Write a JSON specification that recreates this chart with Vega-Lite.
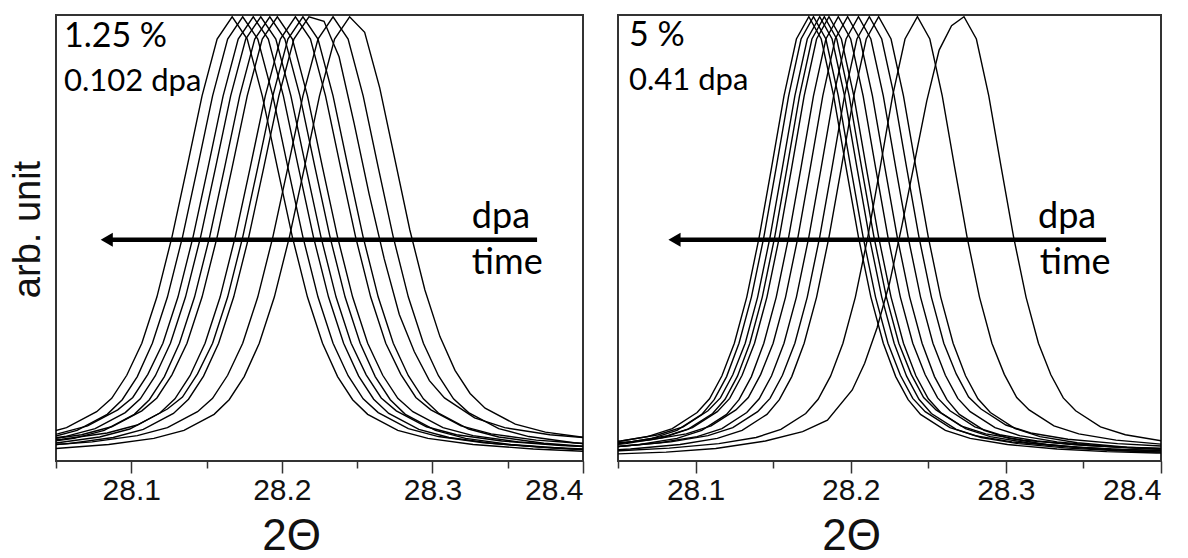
{
"$schema": "https://vega.github.io/schema/vega-lite/v6.json",
"background": "white",
"padding": {"left": 8, "top": 14, "right": 5, "bottom": 5},
"config": {
  "view": {"stroke": "#333333", "strokeWidth": 2},
  "axis": {"labelFont": "Liberation Sans", "titleFont": "Liberation Sans", "labelFontSize": 30, "labelColor": "#111111", "titleColor": "#111111", "titleFontWeight": "normal", "grid": false, "domain": false, "tickColor": "#333333", "tickWidth": 1.5}
},
"datasets": {
"L": [
{"c":1,"x":28.037,"y":0.057},{"c":1,"x":28.057,"y":0.075},{"c":1,"x":28.077,"y":0.111},{"c":1,"x":28.087,"y":0.141},{"c":1,"x":28.097,"y":0.193},{"c":1,"x":28.107,"y":0.265},{"c":1,"x":28.117,"y":0.369},{"c":1,"x":28.127,"y":0.504},{"c":1,"x":28.137,"y":0.661},{"c":1,"x":28.147,"y":0.822},{"c":1,"x":28.157,"y":0.95},{"c":1,"x":28.167,"y":1},{"c":1,"x":28.177,"y":0.95},{"c":1,"x":28.187,"y":0.822},{"c":1,"x":28.197,"y":0.661},{"c":1,"x":28.207,"y":0.504},{"c":1,"x":28.217,"y":0.369},{"c":1,"x":28.227,"y":0.265},{"c":1,"x":28.237,"y":0.19},{"c":1,"x":28.247,"y":0.138},{"c":1,"x":28.257,"y":0.105},{"c":1,"x":28.277,"y":0.069},{"c":1,"x":28.297,"y":0.051},{"c":1,"x":28.327,"y":0.037},{"c":1,"x":28.367,"y":0.027},{"c":1,"x":28.407,"y":0.021},
{"c":2,"x":28.044,"y":0.051},{"c":2,"x":28.064,"y":0.069},{"c":2,"x":28.084,"y":0.105},{"c":2,"x":28.094,"y":0.138},{"c":2,"x":28.104,"y":0.19},{"c":2,"x":28.114,"y":0.265},{"c":2,"x":28.124,"y":0.369},{"c":2,"x":28.134,"y":0.504},{"c":2,"x":28.144,"y":0.661},{"c":2,"x":28.154,"y":0.822},{"c":2,"x":28.164,"y":0.95},{"c":2,"x":28.174,"y":1},{"c":2,"x":28.184,"y":0.95},{"c":2,"x":28.194,"y":0.822},{"c":2,"x":28.204,"y":0.661},{"c":2,"x":28.214,"y":0.504},{"c":2,"x":28.224,"y":0.369},{"c":2,"x":28.234,"y":0.265},{"c":2,"x":28.244,"y":0.192},{"c":2,"x":28.254,"y":0.14},{"c":2,"x":28.264,"y":0.109},{"c":2,"x":28.284,"y":0.073},{"c":2,"x":28.304,"y":0.055},{"c":2,"x":28.334,"y":0.041},{"c":2,"x":28.374,"y":0.031},{"c":2,"x":28.414,"y":0.025},
{"c":3,"x":28.021,"y":0.047},{"c":3,"x":28.051,"y":0.061},{"c":3,"x":28.071,"y":0.079},{"c":3,"x":28.091,"y":0.115},{"c":3,"x":28.101,"y":0.143},{"c":3,"x":28.111,"y":0.195},{"c":3,"x":28.121,"y":0.265},{"c":3,"x":28.131,"y":0.369},{"c":3,"x":28.141,"y":0.504},{"c":3,"x":28.151,"y":0.661},{"c":3,"x":28.161,"y":0.822},{"c":3,"x":28.171,"y":0.95},{"c":3,"x":28.181,"y":1},{"c":3,"x":28.191,"y":0.95},{"c":3,"x":28.201,"y":0.822},{"c":3,"x":28.211,"y":0.661},{"c":3,"x":28.221,"y":0.504},{"c":3,"x":28.231,"y":0.369},{"c":3,"x":28.241,"y":0.265},{"c":3,"x":28.251,"y":0.191},{"c":3,"x":28.261,"y":0.139},{"c":3,"x":28.271,"y":0.107},{"c":3,"x":28.291,"y":0.071},{"c":3,"x":28.311,"y":0.053},{"c":3,"x":28.341,"y":0.039},{"c":3,"x":28.381,"y":0.029},{"c":3,"x":28.421,"y":0.023},
{"c":4,"x":28.026,"y":0.041},{"c":4,"x":28.056,"y":0.055},{"c":4,"x":28.076,"y":0.073},{"c":4,"x":28.096,"y":0.109},{"c":4,"x":28.106,"y":0.14},{"c":4,"x":28.116,"y":0.192},{"c":4,"x":28.126,"y":0.265},{"c":4,"x":28.136,"y":0.369},{"c":4,"x":28.146,"y":0.504},{"c":4,"x":28.156,"y":0.661},{"c":4,"x":28.166,"y":0.822},{"c":4,"x":28.176,"y":0.95},{"c":4,"x":28.186,"y":1},{"c":4,"x":28.196,"y":0.95},{"c":4,"x":28.206,"y":0.822},{"c":4,"x":28.216,"y":0.661},{"c":4,"x":28.226,"y":0.504},{"c":4,"x":28.236,"y":0.369},{"c":4,"x":28.246,"y":0.265},{"c":4,"x":28.256,"y":0.194},{"c":4,"x":28.266,"y":0.142},{"c":4,"x":28.276,"y":0.113},{"c":4,"x":28.296,"y":0.077},{"c":4,"x":28.316,"y":0.059},{"c":4,"x":28.346,"y":0.045},{"c":4,"x":28.386,"y":0.035},{"c":4,"x":28.426,"y":0.029},
{"c":5,"x":28.032,"y":0.037},{"c":5,"x":28.062,"y":0.051},{"c":5,"x":28.082,"y":0.069},{"c":5,"x":28.102,"y":0.105},{"c":5,"x":28.112,"y":0.138},{"c":5,"x":28.122,"y":0.19},{"c":5,"x":28.132,"y":0.265},{"c":5,"x":28.142,"y":0.369},{"c":5,"x":28.152,"y":0.504},{"c":5,"x":28.162,"y":0.661},{"c":5,"x":28.172,"y":0.822},{"c":5,"x":28.182,"y":0.95},{"c":5,"x":28.192,"y":1},{"c":5,"x":28.202,"y":0.95},{"c":5,"x":28.212,"y":0.822},{"c":5,"x":28.222,"y":0.661},{"c":5,"x":28.232,"y":0.504},{"c":5,"x":28.242,"y":0.369},{"c":5,"x":28.252,"y":0.265},{"c":5,"x":28.262,"y":0.19},{"c":5,"x":28.272,"y":0.138},{"c":5,"x":28.282,"y":0.105},{"c":5,"x":28.302,"y":0.069},{"c":5,"x":28.322,"y":0.051},{"c":5,"x":28.352,"y":0.037},{"c":5,"x":28.392,"y":0.027},{"c":5,"x":28.432,"y":0.021},
{"c":6,"x":28.037,"y":0.045},{"c":6,"x":28.067,"y":0.059},{"c":6,"x":28.087,"y":0.077},{"c":6,"x":28.107,"y":0.113},{"c":6,"x":28.117,"y":0.142},{"c":6,"x":28.127,"y":0.194},{"c":6,"x":28.137,"y":0.265},{"c":6,"x":28.147,"y":0.369},{"c":6,"x":28.157,"y":0.504},{"c":6,"x":28.167,"y":0.661},{"c":6,"x":28.177,"y":0.822},{"c":6,"x":28.187,"y":0.95},{"c":6,"x":28.197,"y":1},{"c":6,"x":28.207,"y":0.95},{"c":6,"x":28.217,"y":0.822},{"c":6,"x":28.227,"y":0.661},{"c":6,"x":28.237,"y":0.504},{"c":6,"x":28.247,"y":0.369},{"c":6,"x":28.257,"y":0.265},{"c":6,"x":28.267,"y":0.193},{"c":6,"x":28.277,"y":0.141},{"c":6,"x":28.287,"y":0.111},{"c":6,"x":28.307,"y":0.075},{"c":6,"x":28.327,"y":0.057},{"c":6,"x":28.357,"y":0.043},{"c":6,"x":28.397,"y":0.033},{"c":6,"x":28.437,"y":0.027},
{"c":7,"x":28.049,"y":0.04},{"c":7,"x":28.079,"y":0.054},{"c":7,"x":28.099,"y":0.072},{"c":7,"x":28.119,"y":0.108},{"c":7,"x":28.129,"y":0.14},{"c":7,"x":28.139,"y":0.192},{"c":7,"x":28.149,"y":0.265},{"c":7,"x":28.159,"y":0.369},{"c":7,"x":28.169,"y":0.504},{"c":7,"x":28.179,"y":0.661},{"c":7,"x":28.189,"y":0.822},{"c":7,"x":28.199,"y":0.95},{"c":7,"x":28.209,"y":1},{"c":7,"x":28.219,"y":0.95},{"c":7,"x":28.229,"y":0.822},{"c":7,"x":28.239,"y":0.661},{"c":7,"x":28.249,"y":0.504},{"c":7,"x":28.259,"y":0.369},{"c":7,"x":28.269,"y":0.265},{"c":7,"x":28.279,"y":0.195},{"c":7,"x":28.289,"y":0.143},{"c":7,"x":28.299,"y":0.115},{"c":7,"x":28.319,"y":0.079},{"c":7,"x":28.339,"y":0.061},{"c":7,"x":28.369,"y":0.047},{"c":7,"x":28.409,"y":0.037},
{"c":8,"x":28.014,"y":0.039},{"c":8,"x":28.054,"y":0.049},{"c":8,"x":28.084,"y":0.063},{"c":8,"x":28.104,"y":0.081},{"c":8,"x":28.124,"y":0.117},{"c":8,"x":28.134,"y":0.144},{"c":8,"x":28.144,"y":0.196},{"c":8,"x":28.154,"y":0.265},{"c":8,"x":28.164,"y":0.369},{"c":8,"x":28.174,"y":0.504},{"c":8,"x":28.184,"y":0.661},{"c":8,"x":28.194,"y":0.822},{"c":8,"x":28.204,"y":0.95},{"c":8,"x":28.214,"y":1},{"c":8,"x":28.224,"y":0.95},{"c":8,"x":28.234,"y":0.822},{"c":8,"x":28.244,"y":0.661},{"c":8,"x":28.254,"y":0.504},{"c":8,"x":28.264,"y":0.369},{"c":8,"x":28.274,"y":0.265},{"c":8,"x":28.284,"y":0.192},{"c":8,"x":28.294,"y":0.14},{"c":8,"x":28.304,"y":0.108},{"c":8,"x":28.324,"y":0.072},{"c":8,"x":28.344,"y":0.054},{"c":8,"x":28.374,"y":0.04},{"c":8,"x":28.414,"y":0.03},
{"c":9,"x":28.018,"y":0.029},{"c":9,"x":28.058,"y":0.039},{"c":9,"x":28.088,"y":0.053},{"c":9,"x":28.108,"y":0.071},{"c":9,"x":28.128,"y":0.107},{"c":9,"x":28.138,"y":0.139},{"c":9,"x":28.148,"y":0.191},{"c":9,"x":28.158,"y":0.265},{"c":9,"x":28.168,"y":0.369},{"c":9,"x":28.178,"y":0.504},{"c":9,"x":28.188,"y":0.661},{"c":9,"x":28.198,"y":0.822},{"c":9,"x":28.208,"y":0.95},{"c":9,"x":28.218,"y":1},{"c":9,"x":28.228,"y":0.99},{"c":9,"x":28.238,"y":0.91},{"c":9,"x":28.248,"y":0.76},{"c":9,"x":28.258,"y":0.6},{"c":9,"x":28.268,"y":0.455},{"c":9,"x":28.278,"y":0.33},{"c":9,"x":28.288,"y":0.246},{"c":9,"x":28.298,"y":0.181},{"c":9,"x":28.308,"y":0.142},{"c":9,"x":28.328,"y":0.097},{"c":9,"x":28.348,"y":0.075},{"c":9,"x":28.378,"y":0.059},{"c":9,"x":28.418,"y":0.048},
{"c":10,"x":28.034,"y":0.033},{"c":10,"x":28.074,"y":0.043},{"c":10,"x":28.104,"y":0.057},{"c":10,"x":28.124,"y":0.075},{"c":10,"x":28.144,"y":0.111},{"c":10,"x":28.154,"y":0.141},{"c":10,"x":28.164,"y":0.193},{"c":10,"x":28.174,"y":0.265},{"c":10,"x":28.184,"y":0.369},{"c":10,"x":28.194,"y":0.504},{"c":10,"x":28.204,"y":0.661},{"c":10,"x":28.214,"y":0.822},{"c":10,"x":28.224,"y":0.95},{"c":10,"x":28.234,"y":1},{"c":10,"x":28.244,"y":0.95},{"c":10,"x":28.254,"y":0.822},{"c":10,"x":28.264,"y":0.661},{"c":10,"x":28.274,"y":0.504},{"c":10,"x":28.284,"y":0.369},{"c":10,"x":28.294,"y":0.265},{"c":10,"x":28.304,"y":0.192},{"c":10,"x":28.314,"y":0.14},{"c":10,"x":28.324,"y":0.109},{"c":10,"x":28.344,"y":0.073},{"c":10,"x":28.364,"y":0.055},{"c":10,"x":28.394,"y":0.041},{"c":10,"x":28.434,"y":0.031},
{"c":11,"x":28.045,"y":0.027},{"c":11,"x":28.085,"y":0.037},{"c":11,"x":28.115,"y":0.051},{"c":11,"x":28.135,"y":0.069},{"c":11,"x":28.155,"y":0.105},{"c":11,"x":28.165,"y":0.138},{"c":11,"x":28.175,"y":0.19},{"c":11,"x":28.185,"y":0.265},{"c":11,"x":28.195,"y":0.369},{"c":11,"x":28.205,"y":0.504},{"c":11,"x":28.215,"y":0.661},{"c":11,"x":28.225,"y":0.822},{"c":11,"x":28.235,"y":0.95},{"c":11,"x":28.245,"y":1},{"c":11,"x":28.255,"y":0.965},{"c":11,"x":28.265,"y":0.84},{"c":11,"x":28.275,"y":0.68},{"c":11,"x":28.285,"y":0.52},{"c":11,"x":28.295,"y":0.385},{"c":11,"x":28.305,"y":0.28},{"c":11,"x":28.315,"y":0.204},{"c":11,"x":28.325,"y":0.152},{"c":11,"x":28.335,"y":0.119},{"c":11,"x":28.355,"y":0.083},{"c":11,"x":28.375,"y":0.065},{"c":11,"x":28.405,"y":0.051}
],
"R": [
{"c":1,"x":28.045,"y":0.041},{"c":1,"x":28.069,"y":0.055},{"c":1,"x":28.085,"y":0.073},{"c":1,"x":28.101,"y":0.109},{"c":1,"x":28.109,"y":0.14},{"c":1,"x":28.117,"y":0.192},{"c":1,"x":28.125,"y":0.265},{"c":1,"x":28.133,"y":0.369},{"c":1,"x":28.141,"y":0.504},{"c":1,"x":28.149,"y":0.661},{"c":1,"x":28.157,"y":0.822},{"c":1,"x":28.165,"y":0.95},{"c":1,"x":28.173,"y":1},{"c":1,"x":28.181,"y":0.95},{"c":1,"x":28.189,"y":0.822},{"c":1,"x":28.197,"y":0.661},{"c":1,"x":28.205,"y":0.504},{"c":1,"x":28.213,"y":0.369},{"c":1,"x":28.221,"y":0.265},{"c":1,"x":28.229,"y":0.19},{"c":1,"x":28.237,"y":0.138},{"c":1,"x":28.245,"y":0.105},{"c":1,"x":28.261,"y":0.069},{"c":1,"x":28.277,"y":0.051},{"c":1,"x":28.301,"y":0.037},{"c":1,"x":28.333,"y":0.027},{"c":1,"x":28.365,"y":0.021},{"c":1,"x":28.397,"y":0.018},{"c":1,"x":28.429,"y":0.016},
{"c":2,"x":28.048,"y":0.037},{"c":2,"x":28.072,"y":0.051},{"c":2,"x":28.088,"y":0.069},{"c":2,"x":28.104,"y":0.105},{"c":2,"x":28.112,"y":0.138},{"c":2,"x":28.12,"y":0.19},{"c":2,"x":28.128,"y":0.265},{"c":2,"x":28.136,"y":0.369},{"c":2,"x":28.144,"y":0.504},{"c":2,"x":28.152,"y":0.661},{"c":2,"x":28.16,"y":0.822},{"c":2,"x":28.168,"y":0.95},{"c":2,"x":28.176,"y":1},{"c":2,"x":28.184,"y":0.95},{"c":2,"x":28.192,"y":0.822},{"c":2,"x":28.2,"y":0.661},{"c":2,"x":28.208,"y":0.504},{"c":2,"x":28.216,"y":0.369},{"c":2,"x":28.224,"y":0.265},{"c":2,"x":28.232,"y":0.193},{"c":2,"x":28.24,"y":0.141},{"c":2,"x":28.248,"y":0.111},{"c":2,"x":28.264,"y":0.075},{"c":2,"x":28.28,"y":0.057},{"c":2,"x":28.304,"y":0.043},{"c":2,"x":28.336,"y":0.033},{"c":2,"x":28.368,"y":0.027},{"c":2,"x":28.4,"y":0.024},{"c":2,"x":28.432,"y":0.022},
{"c":3,"x":28.02,"y":0.035},{"c":3,"x":28.052,"y":0.045},{"c":3,"x":28.076,"y":0.059},{"c":3,"x":28.092,"y":0.077},{"c":3,"x":28.108,"y":0.113},{"c":3,"x":28.116,"y":0.142},{"c":3,"x":28.124,"y":0.194},{"c":3,"x":28.132,"y":0.265},{"c":3,"x":28.14,"y":0.369},{"c":3,"x":28.148,"y":0.504},{"c":3,"x":28.156,"y":0.661},{"c":3,"x":28.164,"y":0.822},{"c":3,"x":28.172,"y":0.95},{"c":3,"x":28.18,"y":1},{"c":3,"x":28.188,"y":0.95},{"c":3,"x":28.196,"y":0.822},{"c":3,"x":28.204,"y":0.661},{"c":3,"x":28.212,"y":0.504},{"c":3,"x":28.22,"y":0.369},{"c":3,"x":28.228,"y":0.265},{"c":3,"x":28.236,"y":0.191},{"c":3,"x":28.244,"y":0.139},{"c":3,"x":28.252,"y":0.107},{"c":3,"x":28.268,"y":0.071},{"c":3,"x":28.284,"y":0.053},{"c":3,"x":28.308,"y":0.039},{"c":3,"x":28.34,"y":0.029},{"c":3,"x":28.372,"y":0.023},{"c":3,"x":28.404,"y":0.02},
{"c":4,"x":28.023,"y":0.029},{"c":4,"x":28.055,"y":0.039},{"c":4,"x":28.079,"y":0.053},{"c":4,"x":28.095,"y":0.071},{"c":4,"x":28.111,"y":0.107},{"c":4,"x":28.119,"y":0.139},{"c":4,"x":28.127,"y":0.191},{"c":4,"x":28.135,"y":0.265},{"c":4,"x":28.143,"y":0.369},{"c":4,"x":28.151,"y":0.504},{"c":4,"x":28.159,"y":0.661},{"c":4,"x":28.167,"y":0.822},{"c":4,"x":28.175,"y":0.95},{"c":4,"x":28.183,"y":1},{"c":4,"x":28.191,"y":0.95},{"c":4,"x":28.199,"y":0.822},{"c":4,"x":28.207,"y":0.661},{"c":4,"x":28.215,"y":0.504},{"c":4,"x":28.223,"y":0.369},{"c":4,"x":28.231,"y":0.265},{"c":4,"x":28.239,"y":0.195},{"c":4,"x":28.247,"y":0.143},{"c":4,"x":28.255,"y":0.115},{"c":4,"x":28.271,"y":0.079},{"c":4,"x":28.287,"y":0.061},{"c":4,"x":28.311,"y":0.047},{"c":4,"x":28.343,"y":0.037},{"c":4,"x":28.375,"y":0.031},{"c":4,"x":28.407,"y":0.028},
{"c":5,"x":28.026,"y":0.033},{"c":5,"x":28.058,"y":0.043},{"c":5,"x":28.082,"y":0.057},{"c":5,"x":28.098,"y":0.075},{"c":5,"x":28.114,"y":0.111},{"c":5,"x":28.122,"y":0.141},{"c":5,"x":28.13,"y":0.193},{"c":5,"x":28.138,"y":0.265},{"c":5,"x":28.146,"y":0.369},{"c":5,"x":28.154,"y":0.504},{"c":5,"x":28.162,"y":0.661},{"c":5,"x":28.17,"y":0.822},{"c":5,"x":28.178,"y":0.95},{"c":5,"x":28.186,"y":1},{"c":5,"x":28.194,"y":0.95},{"c":5,"x":28.202,"y":0.822},{"c":5,"x":28.21,"y":0.661},{"c":5,"x":28.218,"y":0.504},{"c":5,"x":28.226,"y":0.369},{"c":5,"x":28.234,"y":0.265},{"c":5,"x":28.242,"y":0.192},{"c":5,"x":28.25,"y":0.14},{"c":5,"x":28.258,"y":0.109},{"c":5,"x":28.274,"y":0.073},{"c":5,"x":28.29,"y":0.055},{"c":5,"x":28.314,"y":0.041},{"c":5,"x":28.346,"y":0.031},{"c":5,"x":28.378,"y":0.025},{"c":5,"x":28.41,"y":0.022},
{"c":6,"x":28.032,"y":0.027},{"c":6,"x":28.064,"y":0.037},{"c":6,"x":28.088,"y":0.051},{"c":6,"x":28.104,"y":0.069},{"c":6,"x":28.12,"y":0.105},{"c":6,"x":28.128,"y":0.138},{"c":6,"x":28.136,"y":0.19},{"c":6,"x":28.144,"y":0.265},{"c":6,"x":28.152,"y":0.369},{"c":6,"x":28.16,"y":0.504},{"c":6,"x":28.168,"y":0.661},{"c":6,"x":28.176,"y":0.822},{"c":6,"x":28.184,"y":0.95},{"c":6,"x":28.192,"y":1},{"c":6,"x":28.2,"y":0.95},{"c":6,"x":28.208,"y":0.822},{"c":6,"x":28.216,"y":0.661},{"c":6,"x":28.224,"y":0.504},{"c":6,"x":28.232,"y":0.369},{"c":6,"x":28.24,"y":0.265},{"c":6,"x":28.248,"y":0.194},{"c":6,"x":28.256,"y":0.142},{"c":6,"x":28.264,"y":0.113},{"c":6,"x":28.28,"y":0.077},{"c":6,"x":28.296,"y":0.059},{"c":6,"x":28.32,"y":0.045},{"c":6,"x":28.352,"y":0.035},{"c":6,"x":28.384,"y":0.029},{"c":6,"x":28.416,"y":0.026},
{"c":7,"x":28.038,"y":0.037},{"c":7,"x":28.07,"y":0.047},{"c":7,"x":28.094,"y":0.061},{"c":7,"x":28.11,"y":0.079},{"c":7,"x":28.126,"y":0.115},{"c":7,"x":28.134,"y":0.143},{"c":7,"x":28.142,"y":0.195},{"c":7,"x":28.15,"y":0.265},{"c":7,"x":28.158,"y":0.369},{"c":7,"x":28.166,"y":0.504},{"c":7,"x":28.174,"y":0.661},{"c":7,"x":28.182,"y":0.822},{"c":7,"x":28.19,"y":0.95},{"c":7,"x":28.198,"y":1},{"c":7,"x":28.206,"y":0.95},{"c":7,"x":28.214,"y":0.822},{"c":7,"x":28.222,"y":0.661},{"c":7,"x":28.23,"y":0.504},{"c":7,"x":28.238,"y":0.369},{"c":7,"x":28.246,"y":0.265},{"c":7,"x":28.254,"y":0.19},{"c":7,"x":28.262,"y":0.138},{"c":7,"x":28.27,"y":0.105},{"c":7,"x":28.286,"y":0.069},{"c":7,"x":28.302,"y":0.051},{"c":7,"x":28.326,"y":0.037},{"c":7,"x":28.358,"y":0.027},{"c":7,"x":28.39,"y":0.021},{"c":7,"x":28.422,"y":0.018},
{"c":8,"x":28.045,"y":0.031},{"c":8,"x":28.077,"y":0.041},{"c":8,"x":28.101,"y":0.055},{"c":8,"x":28.117,"y":0.073},{"c":8,"x":28.133,"y":0.109},{"c":8,"x":28.141,"y":0.14},{"c":8,"x":28.149,"y":0.192},{"c":8,"x":28.157,"y":0.265},{"c":8,"x":28.165,"y":0.369},{"c":8,"x":28.173,"y":0.504},{"c":8,"x":28.181,"y":0.661},{"c":8,"x":28.189,"y":0.822},{"c":8,"x":28.197,"y":0.95},{"c":8,"x":28.205,"y":1},{"c":8,"x":28.213,"y":0.95},{"c":8,"x":28.221,"y":0.822},{"c":8,"x":28.229,"y":0.661},{"c":8,"x":28.237,"y":0.504},{"c":8,"x":28.245,"y":0.369},{"c":8,"x":28.253,"y":0.265},{"c":8,"x":28.261,"y":0.193},{"c":8,"x":28.269,"y":0.141},{"c":8,"x":28.277,"y":0.111},{"c":8,"x":28.293,"y":0.075},{"c":8,"x":28.309,"y":0.057},{"c":8,"x":28.333,"y":0.043},{"c":8,"x":28.365,"y":0.033},{"c":8,"x":28.397,"y":0.027},{"c":8,"x":28.429,"y":0.024},
{"c":9,"x":28.02,"y":0.027},{"c":9,"x":28.052,"y":0.033},{"c":9,"x":28.084,"y":0.043},{"c":9,"x":28.108,"y":0.057},{"c":9,"x":28.124,"y":0.075},{"c":9,"x":28.14,"y":0.111},{"c":9,"x":28.148,"y":0.141},{"c":9,"x":28.156,"y":0.193},{"c":9,"x":28.164,"y":0.265},{"c":9,"x":28.172,"y":0.369},{"c":9,"x":28.18,"y":0.504},{"c":9,"x":28.188,"y":0.661},{"c":9,"x":28.196,"y":0.822},{"c":9,"x":28.204,"y":0.95},{"c":9,"x":28.212,"y":1},{"c":9,"x":28.22,"y":0.95},{"c":9,"x":28.228,"y":0.822},{"c":9,"x":28.236,"y":0.661},{"c":9,"x":28.244,"y":0.504},{"c":9,"x":28.252,"y":0.369},{"c":9,"x":28.26,"y":0.265},{"c":9,"x":28.268,"y":0.196},{"c":9,"x":28.276,"y":0.144},{"c":9,"x":28.284,"y":0.117},{"c":9,"x":28.3,"y":0.081},{"c":9,"x":28.316,"y":0.063},{"c":9,"x":28.34,"y":0.049},{"c":9,"x":28.372,"y":0.039},{"c":9,"x":28.404,"y":0.033},
{"c":10,"x":28.026,"y":0.021},{"c":10,"x":28.058,"y":0.027},{"c":10,"x":28.09,"y":0.037},{"c":10,"x":28.114,"y":0.051},{"c":10,"x":28.13,"y":0.069},{"c":10,"x":28.146,"y":0.105},{"c":10,"x":28.154,"y":0.138},{"c":10,"x":28.162,"y":0.19},{"c":10,"x":28.17,"y":0.265},{"c":10,"x":28.178,"y":0.369},{"c":10,"x":28.186,"y":0.504},{"c":10,"x":28.194,"y":0.661},{"c":10,"x":28.202,"y":0.822},{"c":10,"x":28.21,"y":0.95},{"c":10,"x":28.218,"y":1},{"c":10,"x":28.226,"y":0.95},{"c":10,"x":28.234,"y":0.822},{"c":10,"x":28.242,"y":0.661},{"c":10,"x":28.25,"y":0.504},{"c":10,"x":28.258,"y":0.369},{"c":10,"x":28.266,"y":0.265},{"c":10,"x":28.274,"y":0.192},{"c":10,"x":28.282,"y":0.14},{"c":10,"x":28.29,"y":0.109},{"c":10,"x":28.306,"y":0.073},{"c":10,"x":28.322,"y":0.055},{"c":10,"x":28.346,"y":0.041},{"c":10,"x":28.378,"y":0.031},{"c":10,"x":28.41,"y":0.025},
{"c":11,"x":28.019,"y":0.02},{"c":11,"x":28.051,"y":0.023},{"c":11,"x":28.083,"y":0.029},{"c":11,"x":28.115,"y":0.039},{"c":11,"x":28.139,"y":0.053},{"c":11,"x":28.155,"y":0.071},{"c":11,"x":28.171,"y":0.107},{"c":11,"x":28.179,"y":0.139},{"c":11,"x":28.187,"y":0.191},{"c":11,"x":28.195,"y":0.265},{"c":11,"x":28.203,"y":0.369},{"c":11,"x":28.211,"y":0.504},{"c":11,"x":28.219,"y":0.661},{"c":11,"x":28.227,"y":0.822},{"c":11,"x":28.235,"y":0.95},{"c":11,"x":28.243,"y":1},{"c":11,"x":28.251,"y":0.95},{"c":11,"x":28.259,"y":0.822},{"c":11,"x":28.267,"y":0.661},{"c":11,"x":28.275,"y":0.504},{"c":11,"x":28.283,"y":0.369},{"c":11,"x":28.291,"y":0.265},{"c":11,"x":28.299,"y":0.195},{"c":11,"x":28.307,"y":0.143},{"c":11,"x":28.315,"y":0.115},{"c":11,"x":28.331,"y":0.079},{"c":11,"x":28.347,"y":0.061},{"c":11,"x":28.371,"y":0.047},{"c":11,"x":28.403,"y":0.037},
{"c":12,"x":28.049,"y":0.016},{"c":12,"x":28.081,"y":0.02},{"c":12,"x":28.113,"y":0.028},{"c":12,"x":28.145,"y":0.045},{"c":12,"x":28.169,"y":0.066},{"c":12,"x":28.185,"y":0.092},{"c":12,"x":28.201,"y":0.16},{"c":12,"x":28.209,"y":0.22},{"c":12,"x":28.217,"y":0.3},{"c":12,"x":28.225,"y":0.4},{"c":12,"x":28.233,"y":0.53},{"c":12,"x":28.241,"y":0.67},{"c":12,"x":28.249,"y":0.81},{"c":12,"x":28.257,"y":0.925},{"c":12,"x":28.265,"y":0.98},{"c":12,"x":28.273,"y":1},{"c":12,"x":28.281,"y":0.95},{"c":12,"x":28.289,"y":0.822},{"c":12,"x":28.297,"y":0.661},{"c":12,"x":28.305,"y":0.504},{"c":12,"x":28.313,"y":0.369},{"c":12,"x":28.321,"y":0.265},{"c":12,"x":28.329,"y":0.194},{"c":12,"x":28.337,"y":0.142},{"c":12,"x":28.345,"y":0.113},{"c":12,"x":28.361,"y":0.077},{"c":12,"x":28.377,"y":0.059},{"c":12,"x":28.401,"y":0.045}
]
},
"bounds": "flush",
"spacing": 35,
"hconcat": [
{
  "width": 527, "height": 446,
  "resolve": {"axis": {"x": "independent"}},
  "layer": [
    {
      "data": {"name": "L"},
      "mark": {"type": "line", "clip": true, "color": "black", "strokeWidth": 1.4},
      "encoding": {
        "x": {"field": "x", "type": "quantitative", "scale": {"domain": [28.05, 28.4], "nice": false, "zero": false},
              "axis": {"orient": "bottom", "values": [28.1, 28.2, 28.3, 28.4], "format": ".1f", "tickSize": 12, "labelFontSize": 30, "labelPadding": 2, "title": "2Θ", "titleFontSize": 44, "titleX": 235, "titleY": 88, "titleBaseline": "alphabetic"}},
        "y": {"field": "y", "type": "quantitative", "scale": {"domain": [0, 1.004], "nice": false},
              "axis": {"title": "arb. unit", "labels": false, "ticks": false, "domain": false, "titleFontSize": 38, "titlePadding": 9, "titleY": 214}},
        "detail": {"field": "c", "type": "nominal"}
      }
    },
    {
      "data": {"values": [{"x1": 28.0837, "x2": 28.3695, "y": 0.498}]},
      "mark": {"type": "rule", "color": "black", "strokeWidth": 4.5},
      "encoding": {
        "x": {"field": "x1", "type": "quantitative", "axis": {"orient": "bottom", "values": [28.05, 28.15, 28.25, 28.35], "labels": false, "tickSize": 7, "title": null}},
        "x2": {"field": "x2"},
        "y": {"field": "y", "type": "quantitative"}
      }
    },
    {
      "data": {"values": [{"x": 28.0837, "y": 0.498}]},
      "mark": {"type": "point", "shape": "triangle-left", "filled": true, "color": "black", "size": 196, "opacity": 1},
      "encoding": {
        "x": {"field": "x", "type": "quantitative", "axis": null},
        "y": {"field": "y", "type": "quantitative"}
      }
    },
    {
      "data": {"values": [{"x": 28.0553, "y": 0.933, "t": "1.25 %"}]},
      "mark": {"type": "text", "align": "left", "baseline": "alphabetic", "font": "Lato", "fontSize": 34, "color": "black"},
      "encoding": {
        "x": {"field": "x", "type": "quantitative", "axis": null},
        "y": {"field": "y", "type": "quantitative"},
        "text": {"field": "t"}
      }
    },
    {
      "data": {"values": [{"x": 28.0553, "y": 0.834, "t": "0.102 dpa"}]},
      "mark": {"type": "text", "align": "left", "baseline": "alphabetic", "font": "Lato", "fontSize": 31, "color": "black"},
      "encoding": {
        "x": {"field": "x", "type": "quantitative", "axis": null},
        "y": {"field": "y", "type": "quantitative"},
        "text": {"field": "t"}
      }
    },
    {
      "data": {"values": [{"x": 28.3455, "y": 0.525, "t": "dpa"}, {"x": 28.3497, "y": 0.422, "t": "time"}]},
      "mark": {"type": "text", "align": "center", "baseline": "alphabetic", "font": "Lato", "fontSize": 36, "color": "black"},
      "encoding": {
        "x": {"field": "x", "type": "quantitative", "axis": null},
        "y": {"field": "y", "type": "quantitative"},
        "text": {"field": "t"}
      }
    }
  ]
},
{
  "width": 543, "height": 446,
  "resolve": {"axis": {"x": "independent"}},
  "layer": [
    {
      "data": {"name": "R"},
      "mark": {"type": "line", "clip": true, "color": "black", "strokeWidth": 1.4},
      "encoding": {
        "x": {"field": "x", "type": "quantitative", "scale": {"domain": [28.05, 28.4], "nice": false, "zero": false},
              "axis": {"orient": "bottom", "values": [28.1, 28.2, 28.3, 28.4], "format": ".1f", "tickSize": 12, "labelFontSize": 30, "labelPadding": 2, "title": "2Θ", "titleFontSize": 44, "titleX": 233, "titleY": 88, "titleBaseline": "alphabetic"}},
        "y": {"field": "y", "type": "quantitative", "scale": {"domain": [0, 1.004], "nice": false}, "axis": null},
        "detail": {"field": "c", "type": "nominal"}
      }
    },
    {
      "data": {"values": [{"x1": 28.0864, "x2": 28.3646, "y": 0.498}]},
      "mark": {"type": "rule", "color": "black", "strokeWidth": 4.5},
      "encoding": {
        "x": {"field": "x1", "type": "quantitative", "axis": {"orient": "bottom", "values": [28.05, 28.15, 28.25, 28.35], "labels": false, "tickSize": 7, "title": null}},
        "x2": {"field": "x2"},
        "y": {"field": "y", "type": "quantitative", "axis": null}
      }
    },
    {
      "data": {"values": [{"x": 28.0864, "y": 0.498}]},
      "mark": {"type": "point", "shape": "triangle-left", "filled": true, "color": "black", "size": 196, "opacity": 1},
      "encoding": {
        "x": {"field": "x", "type": "quantitative", "axis": null},
        "y": {"field": "y", "type": "quantitative", "axis": null}
      }
    },
    {
      "data": {"values": [{"x": 28.0571, "y": 0.935, "t": "5 %"}]},
      "mark": {"type": "text", "align": "left", "baseline": "alphabetic", "font": "Lato", "fontSize": 34, "color": "black"},
      "encoding": {
        "x": {"field": "x", "type": "quantitative", "axis": null},
        "y": {"field": "y", "type": "quantitative", "axis": null},
        "text": {"field": "t"}
      }
    },
    {
      "data": {"values": [{"x": 28.0571, "y": 0.836, "t": "0.41 dpa"}]},
      "mark": {"type": "text", "align": "left", "baseline": "alphabetic", "font": "Lato", "fontSize": 31, "color": "black"},
      "encoding": {
        "x": {"field": "x", "type": "quantitative", "axis": null},
        "y": {"field": "y", "type": "quantitative", "axis": null},
        "text": {"field": "t"}
      }
    },
    {
      "data": {"values": [{"x": 28.3395, "y": 0.525, "t": "dpa"}, {"x": 28.3447, "y": 0.422, "t": "time"}]},
      "mark": {"type": "text", "align": "center", "baseline": "alphabetic", "font": "Lato", "fontSize": 36, "color": "black"},
      "encoding": {
        "x": {"field": "x", "type": "quantitative", "axis": null},
        "y": {"field": "y", "type": "quantitative", "axis": null},
        "text": {"field": "t"}
      }
    }
  ]
}
]
}
